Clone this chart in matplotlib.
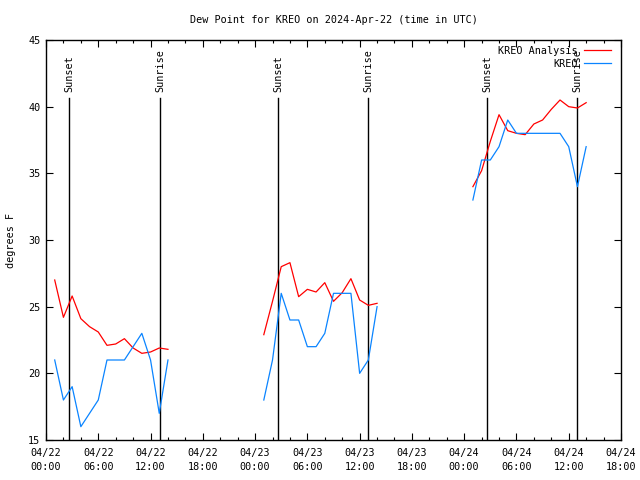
import numpy as np
import pandas as pd
import matplotlib
matplotlib.use("Agg")
import matplotlib.pyplot as plt
import matplotlib.dates as mdates

# ---- data ----
seg1_times = ["2024-04-22 01:00", "2024-04-22 02:00", "2024-04-22 03:00", "2024-04-22 04:00",
              "2024-04-22 05:00", "2024-04-22 06:00", "2024-04-22 07:00", "2024-04-22 08:00",
              "2024-04-22 09:00", "2024-04-22 10:00", "2024-04-22 11:00", "2024-04-22 12:00",
              "2024-04-22 13:00", "2024-04-22 14:00"]
seg2_times = ["2024-04-23 01:00", "2024-04-23 02:00", "2024-04-23 03:00", "2024-04-23 04:00",
              "2024-04-23 05:00", "2024-04-23 06:00", "2024-04-23 07:00", "2024-04-23 08:00",
              "2024-04-23 09:00", "2024-04-23 10:00", "2024-04-23 11:00", "2024-04-23 12:00",
              "2024-04-23 13:00", "2024-04-23 14:00"]
seg3_times = ["2024-04-24 01:00", "2024-04-24 02:00", "2024-04-24 03:00", "2024-04-24 04:00",
              "2024-04-24 05:00", "2024-04-24 06:00", "2024-04-24 07:00", "2024-04-24 08:00",
              "2024-04-24 09:00", "2024-04-24 10:00", "2024-04-24 11:00", "2024-04-24 12:00",
              "2024-04-24 13:00", "2024-04-24 14:00"]

analysis_seg1 = [27.0, 24.2, 25.8, 24.1, 23.5, 23.1, 22.1, 22.2, 22.6, 21.9, 21.5, 21.6, 21.9, 21.8]
analysis_seg2 = [22.9, 25.4, 28.0, 28.3, 25.75, 26.3, 26.1, 26.8, 25.4, 26.05, 27.1, 25.5, 25.1, 25.25]
analysis_seg3 = [34.0, 35.2, 37.4, 39.4, 38.2, 38.0, 37.9, 38.7, 39.0, 39.8, 40.5, 40.0, 39.9, 40.3]

obs_seg1 = [21.0, 18.0, 19.0, 16.0, 17.0, 18.0, 21.0, 21.0, 21.0, 22.0, 23.0, 21.0, 17.0, 21.0]
obs_seg2 = [18.0, 21.0, 26.0, 24.0, 24.0, 22.0, 22.0, 23.0, 26.0, 26.0, 26.0, 20.0, 21.0, 25.0]
obs_seg3 = [33.0, 36.0, 36.0, 37.0, 39.0, 38.0, 38.0, 38.0, 38.0, 38.0, 38.0, 37.0, 34.0, 37.0]

sun_events = ["2024-04-22 02:40", "2024-04-22 13:05", "2024-04-23 02:38",
              "2024-04-23 12:58", "2024-04-24 02:37", "2024-04-24 12:57"]
sun_labels = ["Sunset", "Sunrise", "Sunset", "Sunrise", "Sunset", "Sunrise"]

x_start = "2024-04-22 00:00"
x_end = "2024-04-24 18:00"
y_min, y_max = 15, 45

title = "Dew Point for KREO on 2024-Apr-22 (time in UTC)"
ylabel = "degrees F"
series_names = ["KREO Analysis", "KREO"]

# ---- style ----
FONT = "DejaVu Sans Mono"
FS = 7.3
RED = "#ff0000"
BLUE = "#0a84ff"

fig = plt.figure(figsize=(6.4, 4.8), dpi=100)
ax = fig.add_axes([46 / 640, 1 - 440 / 480, 575 / 640, 400 / 480])

segments = [(seg1_times, analysis_seg1, obs_seg1),
            (seg2_times, analysis_seg2, obs_seg2),
            (seg3_times, analysis_seg3, obs_seg3)]
for i, (t, a, o) in enumerate(segments):
    tt = pd.to_datetime(t)
    ax.plot(tt, a, color=RED, lw=0.9, label=series_names[0] if i == 0 else None, zorder=3)
    ax.plot(tt, o, color=BLUE, lw=0.9, label=series_names[1] if i == 0 else None, zorder=3)

for ev, lab in zip(sun_events, sun_labels):
    te = pd.to_datetime(ev)
    ax.axvline(te, ymin=0, ymax=0.855, color="black", lw=1.0, zorder=2)
    ax.text(te, y_min + (y_max - y_min) * 0.87, lab, rotation=90, ha="center", va="bottom",
            fontsize=FS, family=FONT)

ax.set_xlim(pd.to_datetime(x_start), pd.to_datetime(x_end))
ax.set_ylim(y_min, y_max)
ax.set_yticks(np.arange(y_min, y_max + 1, 5))

ax.xaxis.set_major_locator(mdates.HourLocator(byhour=[0, 6, 12, 18]))
ax.xaxis.set_minor_locator(mdates.HourLocator(interval=2))
ax.xaxis.set_major_formatter(mdates.DateFormatter("%m/%d\n%H:%M"))

ax.tick_params(which="both", direction="in", top=True, right=True, color="black")
ax.tick_params(which="major", length=5, width=0.8, labelsize=FS, pad=4)
ax.tick_params(axis="x", which="major", pad=5.5)
ax.tick_params(which="minor", length=2.5, width=0.8)
fig.canvas.draw()
for lbl in ax.get_xticklabels():
    lbl.set_family(FONT)
    lbl.set_linespacing(1.55)
for lbl in ax.get_yticklabels():
    lbl.set_family(FONT)
for sp in ax.spines.values():
    sp.set_linewidth(1.0)

ax.text(0.5, 1 + 20 / 400, title, transform=ax.transAxes, ha="center", va="center",
        fontsize=FS, family=FONT)
fig.text(11 / 640, 0.5, ylabel, rotation=90, ha="center", va="center", fontsize=FS, family=FONT)

leg = ax.legend(loc="upper right", bbox_to_anchor=(0.983, 0.985), markerfirst=False, frameon=False,
                prop={"family": FONT, "size": FS}, handlelength=2.7, handletextpad=0.6,
                labelspacing=0.3, borderpad=0, borderaxespad=0)

fig.savefig("out.png", dpi=100)
